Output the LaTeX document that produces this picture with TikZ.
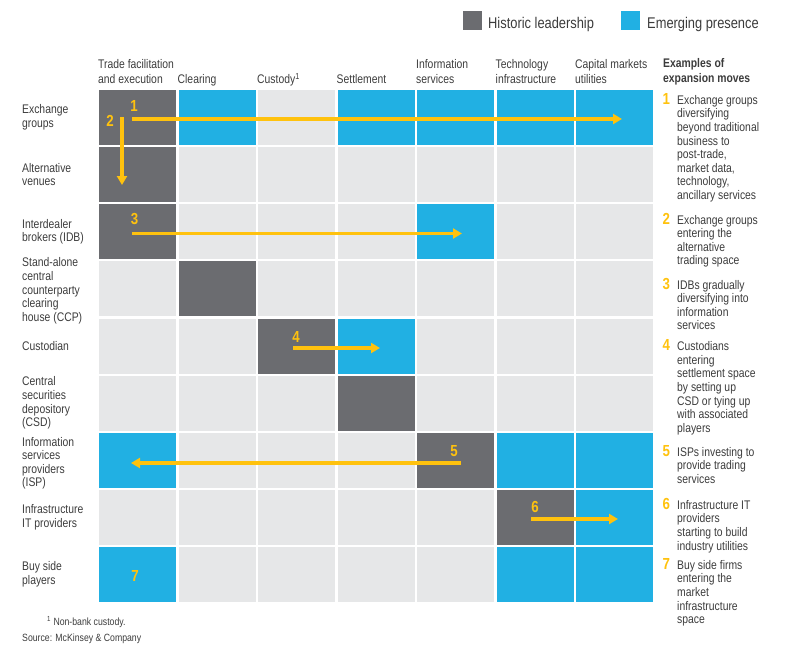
\documentclass[tikz,border=0pt]{standalone}
\usepackage{fontspec}
\setmainfont[FakeStretch=0.83]{Liberation Sans}
\usetikzlibrary{arrows.meta}
\definecolor{histgray}{HTML}{6B6C70}
\definecolor{emrgblue}{HTML}{21B0E3}
\definecolor{cellgray}{HTML}{E6E7E8}
\definecolor{moveyel}{HTML}{FFC20E}
\definecolor{inkgray}{HTML}{3C3C3C}
\colorlet{cH}{histgray}
\colorlet{cE}{emrgblue}
\colorlet{cL}{cellgray}
\newcommand\bodyfont{\fontsize{12.5}{13.6}\selectfont}
\newcommand\numfont{\fontsize{16}{16}\selectfont\bfseries}

\begin{document}
\begin{tikzpicture}[x=1pt, y=-1pt, font=\bodyfont, text=inkgray,
  cell/.style={inner sep=0pt, minimum width=77pt, minimum height=55pt},
  rowlab/.style={anchor=west, align=left, inner sep=0pt},
  collab/.style={anchor=base west, align=left, inner sep=0pt, font=\fontsize{12.5}{15}\selectfont},
  listtxt/.style={anchor=base west, text width=100pt, align=flush left, inner sep=0pt},
  movenum/.style={inner sep=0pt, text=moveyel, font=\numfont},
  move/.style={draw=moveyel, line width=3.6pt, -{Triangle[length=9pt,width=10pt]}},
  legbox/.style={inner sep=0pt, minimum size=19pt, anchor=north west},
  legtxt/.style={anchor=base west, inner sep=0pt, font=\fontsize{15.5}{17}\selectfont},
  note/.style={anchor=base west, inner sep=0pt, font=\fontsize{10.5}{12}\selectfont}]
\useasboundingbox (0,0) rectangle (785,659);

% legend
\node[legbox, fill=histgray] (lg-h) at (463,11) {};
\node[legtxt] (lt-h) at (488,28) {Historic leadership};
\node[legbox, fill=emrgblue] (lg-e) at (621,11) {};
\node[legtxt] (lt-e) at (647,28) {Emerging presence};

% grid of cells
\foreach \r/\spec in {1/{H,E,L,E,E,E,E}, 2/{H,L,L,L,L,L,L}, 3/{H,L,L,L,E,L,L},
                      4/{L,H,L,L,L,L,L}, 5/{L,L,H,E,L,L,L}, 6/{L,L,L,H,L,L,L},
                      7/{E,L,L,L,H,E,E}, 8/{L,L,L,L,L,H,E}, 9/{E,L,L,L,L,E,E}}
  \foreach \k [count=\c] in \spec
    \node[cell, fill=c\k] (c-\r-\c) at ({137.5+(\c-1)*79.5}, {117.5+(\r-1)*57.125}) {};

% column heads (base = last line)
\foreach \c/\txt in {1/{Trade facilitation\\and execution}, 2/Clearing,
                     3/{Custody\textsuperscript{1}}, 4/Settlement,
                     5/{Information\\services}, 6/{Technology\\infrastructure},
                     7/{Capital markets\\utilities}}
  \node[collab] (h-\c) at ({98+(\c-1)*79.5}, 83.5) {\txt};

% row heads
\foreach \r/\txt/\dy in {1/{Exchange\\groups}/0, 2/{Alternative\\venues}/0, 3/{Interdealer\\brokers (IDB)}/0,
                     4/{Stand-alone\\central\\counterparty\\clearing\\house (CCP)}/2, 5/Custodian/0,
                     6/{Central\\securities\\depository\\(CSD)}/0, 7/{Information\\services\\providers\\(ISP)}/3,
                     8/{Infrastructure\\IT providers}/0, 9/{Buy side\\players}/0}
  \node[rowlab] (r-\r) at (22, {117.5+(\r-1)*57.125+\dy}) {\txt};

% expansion moves
\coordinate (m1a) at (132,119);   \coordinate (m1b) at (622,119);
\coordinate (m2a) at (122,117);   \coordinate (m2b) at (122,185);
\coordinate (m3a) at (132,233.5); \coordinate (m3b) at (462,233.5);
\coordinate (m4a) at (293,348);   \coordinate (m4b) at (380,348);
\coordinate (m5a) at (461,463);   \coordinate (m5b) at (131,463);
\coordinate (m6a) at (531,519);   \coordinate (m6b) at (618,519);
\foreach \i in {1,...,6}
  \draw[move] (m\i a) -- (m\i b);
\node[movenum] (n1) at (134,105.5) {1};
\node[movenum] (n2) at (110,121) {2};
\node[movenum] (n3) at (134.5,219) {3};
\node[movenum] (n4) at (296,336.5) {4};
\node[movenum] (n5) at (454,451) {5};
\node[movenum] (n6) at (535,507) {6};
\node[movenum] (n7) at (135,575.5) {7};

% examples column
\node[collab, font=\fontsize{12.5}{15}\selectfont\bfseries] (exh) at (663,82.7) {Examples of\\expansion moves};
\foreach \i/\yb/\txt in {1/104.3/{Exchange groups\\diversifying\\beyond traditional\\business to\\post-trade,\\market data,\\technology,\\ancillary services},
                         2/224/{Exchange groups\\entering the\\alternative\\trading space},
                         3/289/{IDBs gradually\\diversifying into\\information\\services},
                         4/350.7/{Custodians\\entering\\settlement space\\by setting up\\CSD or tying up\\with associated\\players},
                         5/456/{ISPs investing to\\provide trading\\services},
                         6/509.3/{Infrastructure IT\\providers\\starting to build\\industry utilities},
                         7/569.3/{Buy side firms\\entering the\\market\\infrastructure\\space}}
{
  \node[movenum, anchor=base west] (k-\i) at (662.5,\yb) {\i};
  \node[listtxt] (t-\i) at (677,\yb) {\txt};
}

% notes
\node[note] (fn) at (47,625) {\textsuperscript{1} Non-bank custody.};
\node[note] (src) at (22,641) {Source: McKinsey \& Company};
\end{tikzpicture}
\end{document}
